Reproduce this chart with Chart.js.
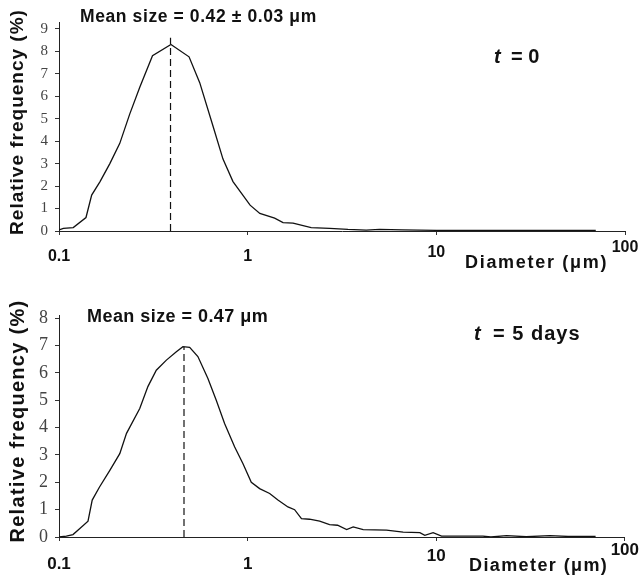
<!DOCTYPE html>
<html><head><meta charset="utf-8">
<script src="https://cdn.jsdelivr.net/npm/chart.js@4.4.1/dist/chart.umd.min.js"></script>
<style>body{margin:0;background:#fff}canvas{display:block}</style>
</head><body>
<canvas id="c0" width="641" height="290"></canvas>
<canvas id="c5" width="641" height="297"></canvas>
<script>
// ---- data ----
const xTickValues = [0.1, 1, 10, 100];
const xTickLabels = ['0.1', '1', '10', '100'];

// t = 0
const diam0 = [0.1, 0.1055, 0.119, 0.139, 0.149, 0.165, 0.186, 0.21, 0.237, 0.268, 0.313, 0.392, 0.489, 0.557, 0.656, 0.74, 0.836, 1.03, 1.16, 1.39, 1.54, 1.74, 2.17, 2.72, 3.4, 4.25, 5.0, 6.6, 10, 20, 40, 70];
const freq0 = [0.05, 0.12, 0.15, 0.6, 1.6, 2.2, 3.0, 3.9, 5.2, 6.4, 7.8, 8.3, 7.75, 6.6, 4.65, 3.2, 2.2, 1.15, 0.78, 0.57, 0.37, 0.35, 0.15, 0.12, 0.07, 0.04, 0.07, 0.05, 0.03, 0.03, 0.03, 0.03];
const meanX0 = [0.39, 0.39];
const meanY0 = [0, 8.6];

// t = 5 days
const diam5 = [0.1, 0.1094, 0.1186, 0.129, 0.1425, 0.150, 0.164, 0.186, 0.210, 0.228, 0.268, 0.296, 0.328, 0.371, 0.419, 0.454, 0.493, 0.545, 0.616, 0.682, 0.755, 0.853, 0.944, 1.046, 1.158, 1.309, 1.448, 1.636, 1.775, 1.93, 2.13, 2.41, 2.72, 3.0, 3.35, 3.63, 4.1, 5.45, 6.68, 8.19, 8.7, 9.63, 10.67, 17.7, 19.5, 23.6, 30, 40, 50, 70];
const freq5 = [0, 0.03, 0.09, 0.31, 0.58, 1.35, 1.83, 2.44, 3.05, 3.79, 4.7, 5.5, 6.1, 6.47, 6.78, 6.96, 6.94, 6.6, 5.8, 5.0, 4.15, 3.3, 2.69, 2.0, 1.77, 1.59, 1.35, 1.1, 1.0, 0.67, 0.65, 0.58, 0.45, 0.43, 0.27, 0.37, 0.27, 0.25, 0.18, 0.16, 0.06, 0.16, 0.03, 0.03, 0.0, 0.05, 0.01, 0.05, 0.02, 0.02];
const meanX5 = [0.46, 0.46];
const meanY5 = [0, 6.96];

// ---- text plugin ----
const textPlugin = {
  id: 'texts',
  afterDraw(chart, args, opts) {
    const ctx = chart.ctx;
    for (const t of (opts.items || [])) {
      ctx.save();
      ctx.font = t.font;
      ctx.fillStyle = '#111';
      ctx.letterSpacing = (t.ls || 0) + 'px';
      ctx.textAlign = t.align || 'left';
      ctx.textBaseline = t.baseline || 'alphabetic';
      ctx.translate(t.x, t.y);
      if (t.rot) ctx.rotate(t.rot);
      ctx.fillText(t.text, 0, 0);
      ctx.restore();
    }
  }
};

function pts(xs, ys) { return xs.map((x, i) => ({x: x, y: ys[i]})); }

function makeChart(id, c) {
  const axisGrid = {display: true, drawOnChartArea: false, drawTicks: true, tickLength: 4, color: '#333'};
  const border = {display: true, color: '#222', width: 1};
  return new Chart(document.getElementById(id), {
    type: 'line',
    data: {
      datasets: [
        {data: pts(c.xs, c.ys), borderColor: '#111', borderWidth: 1.3, pointRadius: 0, tension: 0, fill: false},
        {data: pts(c.mx, c.my), borderColor: '#111', borderWidth: 1.2, borderDash: [7, 4], pointRadius: 0, fill: false}
      ]
    },
    options: {
      responsive: false,
      animation: false,
      devicePixelRatio: 1,
      layout: {padding: {top: c.padTop, right: 16, left: 0, bottom: 0}},
      plugins: {legend: {display: false}, tooltip: {enabled: false}, texts: {items: c.texts}},
      scales: {
        x: {
          type: 'logarithmic', min: 0.1, max: 100, position: 'bottom',
          afterBuildTicks: s => { s.ticks = xTickValues.map(v => ({value: v})); },
          afterFit: s => { s.height = c.xH; },
          grid: axisGrid, border: border,
          ticks: {
            autoSkip: false, maxRotation: 0, minRotation: 0, padding: 2, color: '#111',
            callback: (v, i) => xTickLabels[i],
            font: {
              family: '"Liberation Sans", Arial, sans-serif', weight: 'bold', size: c.xFont,
              lineHeight: ctx => c.xLH[ctx.index] + 'px'
            }
          }
        },
        y: {
          type: 'linear', min: 0, max: c.yMax,
          afterFit: s => { s.width = 59; },
          grid: axisGrid, border: border,
          ticks: {stepSize: 1, includeBounds: false, padding: 7, color: '#444',
            font: {family: '"Liberation Serif", "Times New Roman", serif', size: c.yFont}}
        }
      }
    },
    plugins: [textPlugin]
  });
}

makeChart('c0', {
  xs: diam0, ys: freq0, mx: meanX0, my: meanY0,
  yMax: 9.3, padTop: 22, xH: 59, xFont: 16, yFont: 15,
  xLH: [40, 40, 32, 22],
  texts: [
    {text: 'Mean size = 0.42 \u00b1 0.03 \u03bcm', x: 80, y: 22, font: 'bold 17.5px "Liberation Sans"', ls: 0.6},
    {text: 't', x: 494, y: 63, font: 'italic bold 20px "Liberation Sans"'},
    {text: '= 0', x: 511, y: 63, font: 'bold 20px "Liberation Sans"'},
    {text: 'Diameter (\u03bcm)', x: 465, y: 268, font: 'bold 18px "Liberation Sans"', ls: 1.7},
    {text: 'Relative frequency (%)', x: 18, y: 122, font: 'bold 19px "Liberation Sans"', ls: 1, align: 'center', baseline: 'middle', rot: -Math.PI / 2}
  ]
});

makeChart('c5', {
  xs: diam5, ys: freq5, mx: meanX5, my: meanY5,
  yMax: 8.12, padTop: 25, xH: 50, xFont: 17, yFont: 18,
  xLH: [42.6, 42.6, 26.6, 14.6],
  texts: [
    {text: 'Mean size = 0.47 \u03bcm', x: 87, y: 32, font: 'bold 18px "Liberation Sans"', ls: 0.45},
    {text: 't', x: 474, y: 50, font: 'italic bold 20px "Liberation Sans"'},
    {text: '= 5 days', x: 493, y: 50, font: 'bold 20px "Liberation Sans"', ls: 1},
    {text: 'Diameter (\u03bcm)', x: 469, y: 281, font: 'bold 18px "Liberation Sans"', ls: 1.4},
    {text: 'Relative frequency (%)', x: 18, y: 131, font: 'bold 20px "Liberation Sans"', ls: 1.3, align: 'center', baseline: 'middle', rot: -Math.PI / 2}
  ]
});
</script>
</body></html>
